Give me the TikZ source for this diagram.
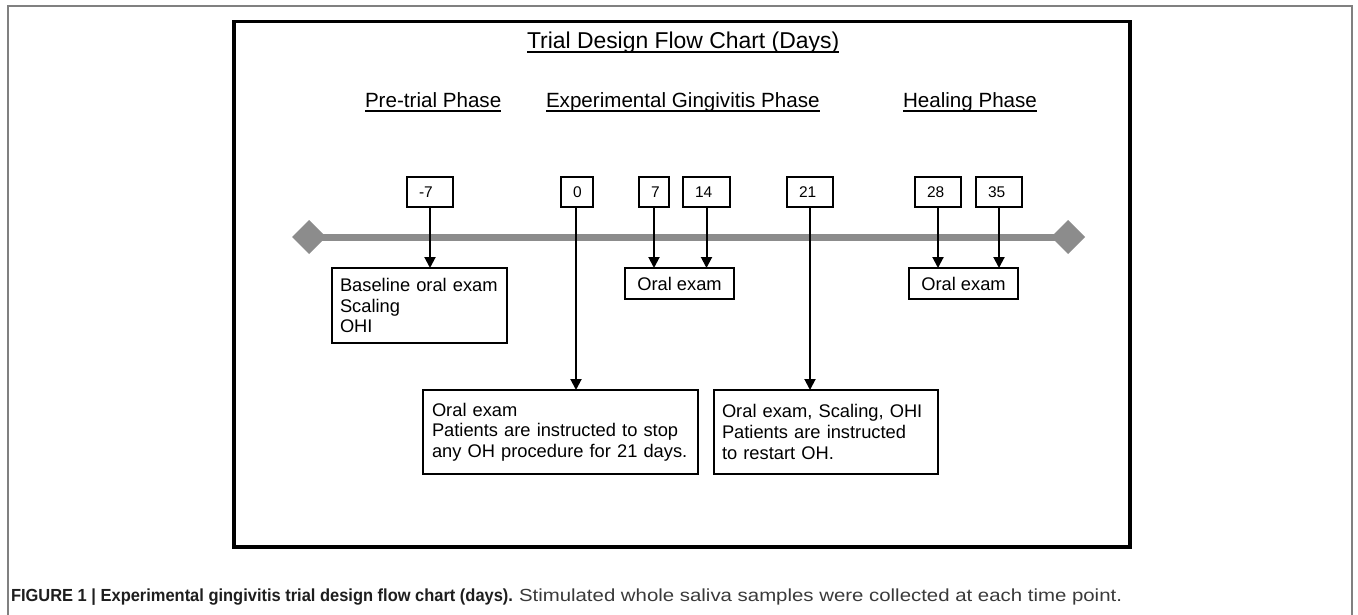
\documentclass[tikz,border=0pt]{standalone}
\usepackage{fontspec}
\setmainfont{Liberation Sans}
\usetikzlibrary{arrows.meta,shapes.geometric}
\definecolor{framegray}{HTML}{808080}
\definecolor{tlgray}{HTML}{8C8C8C}
\definecolor{capgray}{HTML}{3A3A3A}
\definecolor{capdark}{HTML}{1E1E1E}
\begin{document}
\begin{tikzpicture}[x=1pt,y=-1pt,
  every node/.style={inner sep=0pt, outer sep=0pt},
  numbox/.style={draw=black, line width=2pt, minimum height=30pt, inner xsep=12pt, font=\fontsize{15.5}{17}\selectfont, anchor=west},
  txtbox/.style={draw=black, line width=2pt, align=left, font=\fontsize{18.3}{20.7}\selectfont},
  arr/.style={line width=2pt, -{Triangle[width=11pt,length=11pt]}},
  phase/.style={font=\fontsize{20.6}{24}\selectfont, anchor=base west},
  uline/.style={line width=1.5pt},
  tip/.style={diamond, fill=tlgray, minimum width=34pt, minimum height=34pt},
]
\useasboundingbox (0,0) rectangle (1358,615);
\fill[white] (0,0) rectangle (1358,615);
% outer figure frame
\draw[framegray, line width=1.5pt] (8,630) -- (8,6) -- (1352,6) -- (1352,630);
% inner frame
\draw[line width=3.5pt] (234,21.5) rectangle (1130,547);

% title and phases
\node[anchor=base west, font=\fontsize{22.9}{26}\selectfont] (title) at (527,49) {Trial Design Flow Chart (Days)};
\draw[uline] ([yshift=-3pt]title.base west) -- ([yshift=-3pt]title.base east);
\node[phase] (pre) at (365,108) {Pre-trial Phase};
\draw[uline] ([yshift=-3pt]pre.base west) -- ([yshift=-3pt]pre.base east);
\node[phase] (exp) at (546,108) {Experimental Gingivitis Phase};
\draw[uline] ([yshift=-3pt]exp.base west) -- ([yshift=-3pt]exp.base east);
\node[phase] (heal) at (903,108) {Healing Phase};
\draw[uline] ([yshift=-3pt]heal.base west) -- ([yshift=-3pt]heal.base east);

% timeline
\coordinate (tl) at (309,237);
\coordinate (tr) at (1068,237);
\draw[tlgray, line width=7pt] (tl) -- (tr);
\node[tip] (dl) at (tl) {};
\node[tip] (dr) at (tr) {};

% day boxes
\node[numbox] (dm7) at (407,192) {\makebox[22pt][l]{-7}};
\node[numbox] (d0) at (561,192) {\makebox[8pt][l]{0}};
\node[numbox] (d7) at (639,192) {\makebox[6pt][l]{7}};
\node[numbox] (d14) at (683,192) {\makebox[23pt][l]{14}};
\node[numbox] (d21) at (787,192) {\makebox[22pt][l]{21}};
\node[numbox] (d28) at (915,192) {\makebox[22pt][l]{28}};
\node[numbox] (d35) at (976,192) {\makebox[22pt][l]{35}};

% event boxes
\node[txtbox, anchor=north west, inner xsep=8pt, text width=159pt, minimum height=75pt] (base) at (332,268) {Baseline oral exam\\Scaling\\OHI};
\node[txtbox, anchor=north west, inner xsep=0pt, minimum width=109pt, minimum height=31pt, align=center] (oe1) at (625,268) {Oral exam};
\node[txtbox, anchor=north west, inner xsep=0pt, minimum width=109pt, minimum height=31pt, align=center] (oe2) at (909,268) {Oral exam};
\node[txtbox, anchor=north west, inner xsep=9pt, text width=257pt, minimum height=84pt] (stop) at (423,390) {Oral exam\\Patients are instructed to stop\\any OH procedure for 21 days.};
\node[txtbox, anchor=north west, inner xsep=8pt, text width=208pt, minimum height=84pt] (restart) at (714,390) {Oral exam, Scaling, OHI\\Patients are instructed\\to restart OH.};

% arrows
\draw[arr] (dm7.south) -- (dm7.south |- base.north);
\draw[arr] ([xshift=-1pt]d0.south) -- ([xshift=-1pt]d0.south |- stop.north);
\draw[arr] (d7.south) -- (d7.south |- oe1.north);
\draw[arr] (d14.south) -- (d14.south |- oe1.north);
\draw[arr] (d21.south) -- (d21.south |- restart.north);
\draw[arr] (d28.south) -- (d28.south |- oe2.north);
\draw[arr] (d35.south) -- (d35.south |- oe2.north);

% caption
\node[anchor=base west, text=capdark] (capb) at (11,601) {\resizebox{502pt}{\height}{\fontsize{17.5}{20}\selectfont\bfseries FIGURE 1 | Experimental gingivitis trial design flow chart (days).}};
\node[anchor=base west, text=capgray] (capr) at (519,601) {\resizebox{603pt}{\height}{\fontsize{17.5}{20}\selectfont Stimulated whole saliva samples were collected at each time point.}};
\end{tikzpicture}
\end{document}
